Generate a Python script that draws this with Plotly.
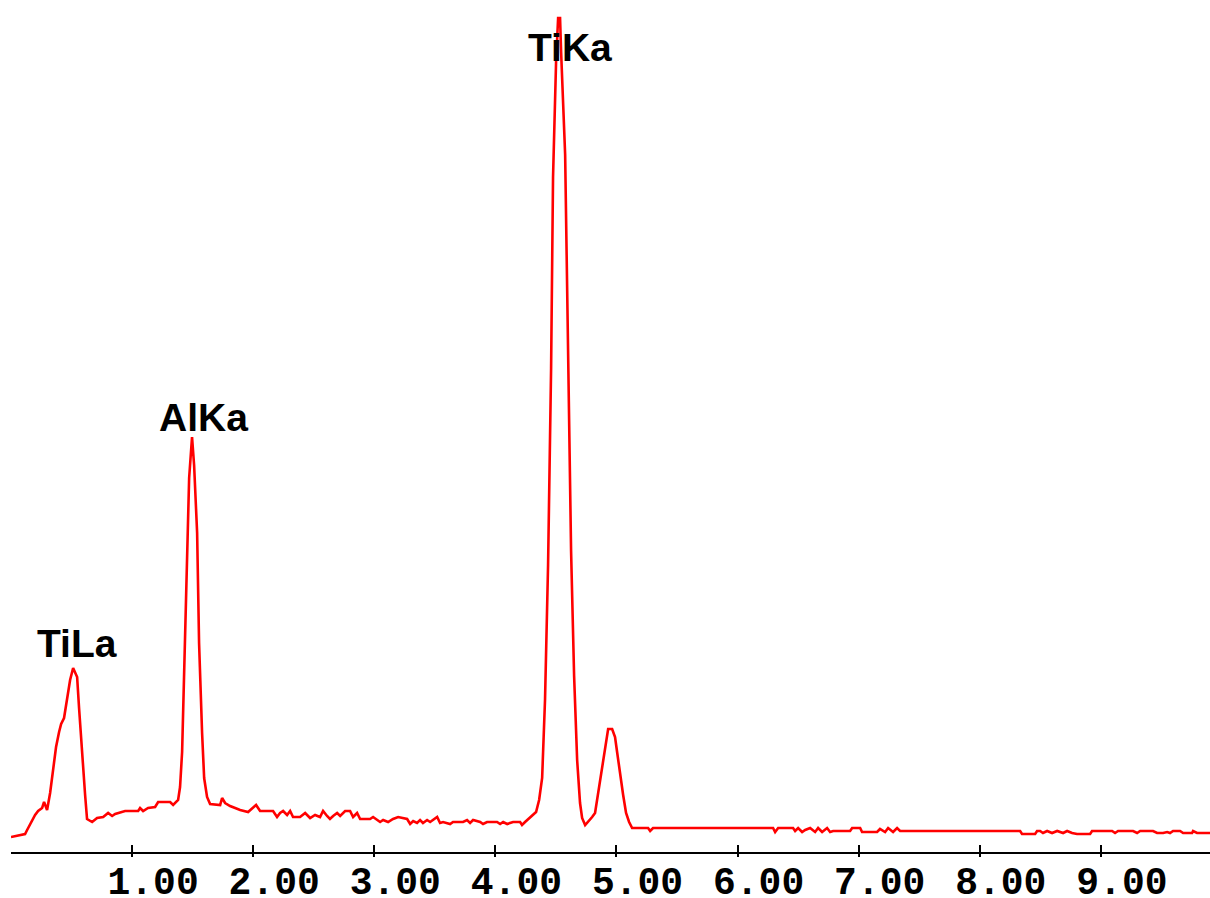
import plotly.graph_objects as go

# EDS spectrum (energy in keV, intensity in arbitrary counts)
energy_kev = [
    0.000, 0.050, 0.116, 0.133, 0.149, 0.174, 0.199, 0.224, 0.257, 0.273,
    0.298, 0.323, 0.348, 0.372, 0.397, 0.414, 0.438, 0.463, 0.488, 0.513,
    0.546, 0.562, 0.587, 0.612, 0.628, 0.670, 0.711, 0.761, 0.802, 0.835,
    0.860, 0.942, 1.050, 1.066, 1.091, 1.132, 1.190, 1.215, 1.314, 1.339,
    1.380, 1.396, 1.413, 1.429, 1.454, 1.471, 1.495, 1.512, 1.537, 1.553,
    1.578, 1.595, 1.619, 1.644, 1.727, 1.743, 1.768, 1.809, 1.851, 1.892,
    1.958, 2.024, 2.057, 2.164, 2.197, 2.222, 2.247, 2.280, 2.305, 2.329,
    2.387, 2.429, 2.470, 2.511, 2.552, 2.577, 2.610, 2.634, 2.660, 2.693,
    2.718, 2.759, 2.800, 2.825, 2.858, 2.883, 2.965, 2.990, 3.048, 3.073,
    3.114, 3.155, 3.197, 3.271, 3.296, 3.321, 3.353, 3.378, 3.402, 3.436,
    3.461, 3.519, 3.543, 3.568, 3.626, 3.650, 3.733, 3.766, 3.791, 3.816,
    3.874, 3.898, 3.931, 4.014, 4.039, 4.064, 4.097, 4.146, 4.204, 4.220,
    4.245, 4.287, 4.311, 4.336, 4.361, 4.386, 4.410, 4.435, 4.460, 4.476,
    4.501, 4.518, 4.534, 4.543, 4.576, 4.600, 4.625, 4.650, 4.675, 4.699,
    4.716, 4.741, 4.766, 4.799, 4.823, 4.840, 4.865, 4.889, 4.914, 4.931,
    4.964, 4.988, 5.005, 5.030, 5.055, 5.079, 5.104, 5.129, 5.261, 5.278,
    5.302, 6.293, 6.310, 6.335, 6.458, 6.475, 6.500, 6.533, 6.558, 6.599,
    6.640, 6.665, 6.698, 6.739, 6.764, 6.789, 6.929, 6.946, 7.012, 7.028,
    7.152, 7.176, 7.218, 7.243, 7.284, 7.317, 7.342, 8.333, 8.349, 8.457,
    8.473, 8.498, 8.522, 8.556, 8.597, 8.639, 8.688, 8.721, 8.762, 8.803,
    8.911, 8.927, 9.093, 9.117, 9.142, 9.183, 9.266, 9.299, 9.324, 9.431,
    9.464, 9.514, 9.547, 9.571, 9.596, 9.654, 9.679, 9.753, 9.761, 9.794,
    9.902,
]

counts = [
    15, 16, 18, 22, 26, 31, 37, 41, 44, 50,
    42, 59, 82, 105, 120, 128, 134, 152, 172, 184,
    175, 144, 97, 57, 33, 30, 34, 35, 39, 36,
    38, 41, 41, 44, 41, 44, 45, 50, 50, 47,
    52, 65, 100, 182, 289, 374, 415, 387, 319, 209,
    119, 74, 55, 48, 47, 54, 49, 46, 44, 42,
    40, 47, 41, 41, 35, 39, 41, 37, 41, 35,
    35, 39, 34, 37, 35, 41, 36, 33, 36, 39,
    36, 41, 41, 35, 39, 33, 33, 35, 30, 32,
    30, 33, 35, 33, 28, 31, 29, 32, 29, 32,
    30, 35, 29, 30, 28, 30, 30, 32, 29, 32,
    30, 28, 30, 30, 28, 30, 28, 30, 30, 27,
    30, 35, 37, 40, 52, 74, 153, 287, 484, 675,
    790, 834, 834, 799, 697, 502, 301, 176, 92, 49,
    34, 27, 30, 35, 39, 52, 72, 92, 112, 123,
    123, 115, 100, 77, 57, 39, 30, 24, 24, 21,
    24, 24, 20, 24, 24, 21, 24, 20, 22, 24,
    20, 24, 20, 24, 20, 21, 21, 24, 24, 20,
    20, 23, 20, 24, 20, 24, 21, 21, 18, 18,
    21, 21, 19, 21, 19, 21, 19, 21, 19, 18,
    18, 21, 21, 19, 21, 21, 21, 19, 21, 21,
    19, 19, 20, 19, 21, 21, 19, 19, 21, 19,
    19,
]

tick_values = [1, 2, 3, 4, 5, 6, 7, 8, 9]
tick_labels = ["1.00", "2.00", "3.00", "4.00", "5.00", "6.00", "7.00", "8.00", "9.00"]

peak_names = ["TiLa", "AlKa", "TiKa"]
peak_label_x = [0.546, 1.590, 4.617]
peak_label_y = [208.5, 434.5, 805]

X_RANGE = [0, 9.901]
Y_RANGE = [0, 852]

fig = go.Figure()
fig.add_trace(go.Scatter(
    x=energy_kev, y=counts, mode="lines",
    line=dict(color="#FF0000", width=2.6),
    showlegend=False, hoverinfo="skip",
))
# helper trace so the overlay axis (downward tick halves) is drawn
fig.add_trace(go.Scatter(
    x=[X_RANGE[0]], y=[Y_RANGE[0]], xaxis="x2", mode="markers",
    marker=dict(opacity=0), showlegend=False, hoverinfo="skip",
))

for name, px, py in zip(peak_names, peak_label_x, peak_label_y):
    fig.add_annotation(
        x=px, y=py, text=name, showarrow=False,
        xanchor="center", yanchor="middle",
        font=dict(family="Liberation Sans, Arial, sans-serif", size=39,
                  color="black", weight="bold"),
    )

fig.update_layout(
    width=1210, height=898,
    margin=dict(l=11, r=0, t=0, b=46, pad=0, autoexpand=False),
    paper_bgcolor="white", plot_bgcolor="white",
    xaxis=dict(
        range=X_RANGE, showgrid=False, zeroline=False, automargin=False,
        showline=True, linecolor="black", linewidth=2,
        tickmode="array", tickvals=tick_values, ticktext=tick_labels,
        ticks="inside", ticklen=7, tickwidth=2, tickcolor="black",
        ticklabelshift=21, ticklabelstandoff=-6,
        tickfont=dict(family="Liberation Mono, Courier New, monospace",
                      size=38, color="black", weight="bold"),
    ),
    xaxis2=dict(
        range=X_RANGE, overlaying="x", anchor="y", side="bottom",
        showgrid=False, zeroline=False, showline=False, automargin=False,
        tickmode="array", tickvals=tick_values,
        ticks="outside", ticklen=4, tickwidth=2, tickcolor="black",
        showticklabels=False,
    ),
    yaxis=dict(range=Y_RANGE, visible=False, showgrid=False, zeroline=False,
               automargin=False),
)

fig.write_html(
    "out.html",
    config={"displayModeBar": False},
    post_script="document.body.style.margin='0';document.body.style.overflow='hidden';",
)
